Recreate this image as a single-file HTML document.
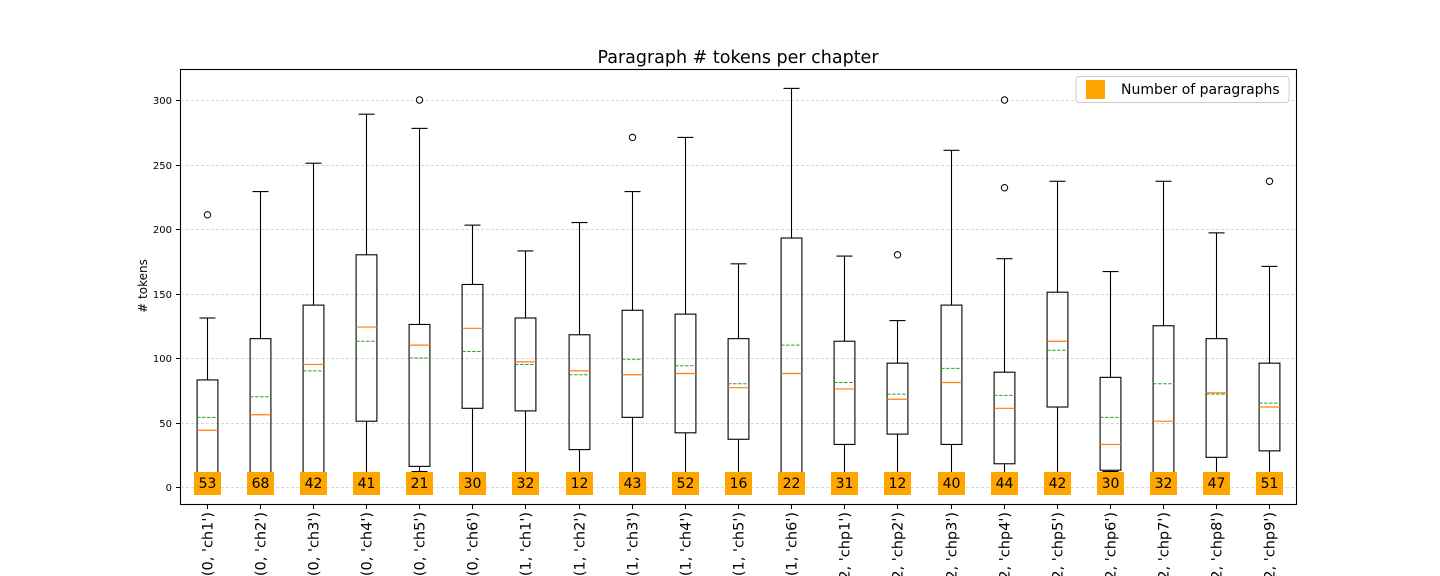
<!DOCTYPE html>
<html><head><meta charset="utf-8"><style>
body{margin:0;background:#fff;}
svg{display:block;font-family:"DejaVu Sans","Liberation Sans",sans-serif;}
</style></head><body>
<svg id="chart" width="1440" height="576" xmlns="http://www.w3.org/2000/svg">
<text x="738" y="63" font-size="17.5" text-anchor="middle">Paragraph # tokens per chapter</text>
<text transform="translate(147,286) rotate(-90)" font-size="12" text-anchor="middle"># tokens</text>
<g id="grid"></g><g id="boxes"></g><g id="ticks"></g>
<rect x="180.5" y="69.5" width="1116" height="435" fill="none" stroke="#000" stroke-width="1.1"/>
<g>
<rect x="1076" y="76.5" width="213" height="26" rx="3" fill="#fff" stroke="#ccc"/>
<rect x="1086" y="80" width="19" height="19" fill="#ffa500"/>
<text x="1121" y="94" font-size="14">Number of paragraphs</text>
</g>
</svg>
<script>
const categories=["(0, 'ch1')","(0, 'ch2')","(0, 'ch3')","(0, 'ch4')","(0, 'ch5')","(0, 'ch6')","(1, 'ch1')","(1, 'ch2')","(1, 'ch3')","(1, 'ch4')","(1, 'ch5')","(1, 'ch6')","(2, 'chp1')","(2, 'chp2')","(2, 'chp3')","(2, 'chp4')","(2, 'chp5')","(2, 'chp6')","(2, 'chp7')","(2, 'chp8')","(2, 'chp9')"];
const whisLo=[0,0,0,0,12,0,0,0,0,0,0,0,0,0,0,0,0,12,0,0,0];
const q1=[0,0,0,51,16,61,59,29,54,42,37,0,33,41,33,18,62,13,0,23,28];
const medians=[44,56,95,124,110,123,97,90,87,88,77,88,76,68,81,61,113,33,51,73,62];
const means=[54,70,90,113,100,105,95,87,99,94,80,110,81,72,92,71,106,54,80,72,65];
const q3=[83,115,141,180,126,157,131,118,137,134,115,193,113,96,141,89,151,85,125,115,96];
const whisHi=[131,229,251,289,278,203,183,205,229,271,173,309,179,129,261,177,237,167,237,197,171];
const outliers=[[211],[],[],[],[300],[],[],[],[271],[],[],[],[],[180],[],[232,300],[],[],[],[],[237]];
const counts=[53,68,42,41,21,30,32,12,43,52,16,22,31,12,40,44,42,30,32,47,51];
const yTicks=[0,50,100,150,200,250,300];
const X0=180,W=1116,Y0=487,K=(487-100)/300;
const xs=i=>X0+(i+0.5)*W/categories.length;
const ys=v=>Y0-v*K;
const NS="http://www.w3.org/2000/svg";
function mk(parent,tag,attrs){const e=document.createElementNS(NS,tag);for(const k in attrs)e.setAttribute(k,attrs[k]);parent.appendChild(e);return e;}
const grid=document.getElementById('grid'),boxes=document.getElementById('boxes'),ticks=document.getElementById('ticks');
yTicks.forEach(t=>{const y=Math.round(ys(t))+0.5;
 const g=mk(grid,'line',{x1:181,x2:1296,y1:y,y2:y,stroke:'#ccc','stroke-dasharray':'3,2','stroke-width':0.8});
 
 
 const tk=mk(ticks,'line',{x1:176,x2:180,y1:y,y2:y,stroke:'#000'});
 
 
 const tl=mk(ticks,'text',{x:172,y:y+3.5,'font-size':10,'text-anchor':'end'});tl.textContent=t;
 
 
});
const hw=16;
categories.forEach((c,i)=>{const x=Math.round(xs(i))+0.5;
 const g=mk(boxes,'g',{});
 
 
 const sw=1.1;
 mk(g,'line',{x1:x,x2:x,y1:ys(whisLo[i]),y2:ys(q1[i]),stroke:'#000','stroke-width':sw});
 mk(g,'line',{x1:x,x2:x,y1:ys(q3[i]),y2:ys(whisHi[i]),stroke:'#000','stroke-width':sw});
 mk(g,'line',{x1:x-8,x2:x+8,y1:ys(whisHi[i]),y2:ys(whisHi[i]),stroke:'#000','stroke-width':sw});
 mk(g,'line',{x1:x-8,x2:x+8,y1:ys(whisLo[i]),y2:ys(whisLo[i]),stroke:'#000','stroke-width':sw});
 mk(g,'rect',{x:x-hw*0.65,y:ys(q3[i]),width:hw*1.3,height:ys(q1[i])-ys(q3[i]),fill:'none',stroke:'#000','stroke-width':sw});
 mk(g,'line',{x1:x-hw*0.65,x2:x+hw*0.65,y1:ys(medians[i]),y2:ys(medians[i]),stroke:'#ff7f0e','stroke-width':1.2});
 mk(g,'line',{x1:x-hw*0.65,x2:x+hw*0.65,y1:ys(means[i]),y2:ys(means[i]),stroke:'#2ca02c','stroke-dasharray':'3.5,1.5','stroke-width':1});
 outliers[i].forEach(o=>{const c2=mk(g,'circle',{cx:x,cy:ys(o),r:3.2,fill:'none',stroke:'#000'});
  
  });
 const lb=mk(g,'rect',{x:x-13.5,y:472,width:27,height:23,fill:'#ffa500'});
 
 
 const lt=mk(g,'text',{x:x,y:488,'font-size':14,'text-anchor':'middle'});lt.textContent=counts[i];
 
 
 const tk=mk(ticks,'line',{x1:x,x2:x,y1:505,y2:509,stroke:'#000'});
 
 
 const xl=mk(ticks,'text',{transform:`translate(${x+5},512) rotate(-90)`,'font-size':14.5,'text-anchor':'end'});xl.textContent=c;
 
 
});
</script>
</body></html>
